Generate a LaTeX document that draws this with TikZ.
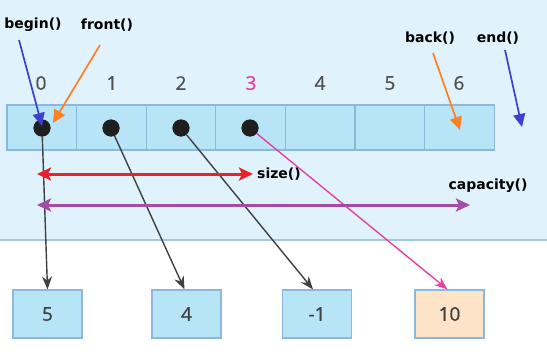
\documentclass[tikz,border=0pt]{standalone}
\usepackage{fontspec}
\setmainfont{DejaVu Sans}
\newfontfamily\numfont[FakeBold=0.9]{Open Sans}
\usetikzlibrary{arrows.meta}
\definecolor{panelbg}{RGB}{224,242,252}
\definecolor{panelline}{RGB}{160,200,230}
\definecolor{cellfill}{RGB}{184,228,248}
\definecolor{celldraw}{RGB}{140,184,222}
\definecolor{orangefill}{RGB}{253,227,200}
\definecolor{pinkc}{RGB}{232,64,160}
\definecolor{redc}{RGB}{236,32,40}
\definecolor{purplec}{RGB}{164,76,168}
\definecolor{bluec}{RGB}{64,64,208}
\definecolor{orangec}{RGB}{255,128,32}
\definecolor{darkc}{RGB}{64,64,64}
\definecolor{numc}{RGB}{80,80,80}
\tikzset{
  cellbox/.style={draw=celldraw, fill=cellfill, line width=1.2pt, minimum width=69.6pt, minimum height=45pt, inner sep=0pt},
  valbox/.style={draw=celldraw, fill=cellfill, line width=1.2pt, minimum width=69pt, minimum height=48pt, inner sep=0pt, font=\numfont\fontsize{19}{19}\selectfont, text=darkc},
  idx/.style={font=\numfont\fontsize{19}{19}\selectfont, text=numc, inner sep=0pt},
  lbl/.style={font=\bfseries\fontsize{14}{14}\selectfont, text=black, inner sep=0pt},
  dotc/.style={circle, fill=black!88, minimum size=17pt, inner sep=0pt},
  ptr/.style={draw=darkc, line width=1.4pt, -{Stealth[length=13pt,width=10pt]}},
  tipa/.style={line width=1.7pt, -{Triangle[length=13pt,width=12pt]}},
  bothway/.style={line width=3pt, {Stealth[length=14pt,width=13pt,inset=3pt]}-{Stealth[length=14pt,width=13pt,inset=3pt]}}
}
\begin{document}
\begin{tikzpicture}[x=1pt,y=-1pt]
\useasboundingbox (0,0) rectangle (547,356);
\fill[panelbg] (-2,-2) rectangle (549,240);
\draw[panelline, line width=1.5pt] (-2,240) -- (549,240);
% cells
\foreach \i/\x in {0/41.8,1/111.4,2/181,3/250.6,4/320.2,5/389.8,6/459.4}{
  \node[cellbox] (c\i) at (\x,127.5) {};
}
% index labels
\foreach \i/\x in {0/41,1/112,2/181,4/320,5/390,6/459}{
  \node[idx] (i\i) at (\x,83) {\i};
}
\node[idx, text=pinkc] (i3) at (251,83) {3};
% value boxes
\node[valbox] (b0) at (47.5,314) {5};
\node[valbox] (b1) at (186.5,314) {4};
\node[valbox] (b2) at (317,314) {-1};
\node[valbox, fill=orangefill] (b3) at (449.5,314) {10};
% dots
\node[dotc] (d0) at (42,128) {};
\node[dotc] (d1) at (111,128) {};
\node[dotc] (d2) at (181,128) {};
\node[dotc] (d3) at (250,128) {};
% pointers
\draw[ptr] (d0) -- (b0.north);
\draw[ptr] (d1) -- ([xshift=-2pt]b1.north);
\draw[ptr] (d2) -- ([xshift=-4pt]b2.north);
\draw[pinkc, line width=1.4pt, -{Stealth[length=13pt,width=10pt]}] (d3) -- ([xshift=-2pt]b3.north);
\node[dotc] at (d0) {};
\node[dotc] at (d1) {};
\node[dotc] at (d2) {};
\node[dotc] at (d3) {};
% top labels
\node[lbl] (begin) at (33,25) {begin()};
\node[lbl] (front) at (107,25) {front()};
\node[lbl] (back) at (430,38) {back()};
\node[lbl] (end) at (498,38) {end()};
\coordinate (beginFrom) at (19,40);
\coordinate (beginTo) at (42,126);
\coordinate (frontFrom) at (100,45);
\coordinate (frontTo) at (53,123);
\coordinate (backFrom) at (433,53);
\coordinate (backTo) at (460,130);
\coordinate (endFrom) at (505,50);
\coordinate (endTo) at (522,127);
\draw[tipa, bluec] (beginFrom) -- (beginTo);
\draw[tipa, orangec] (frontFrom) -- (frontTo);
\draw[tipa, orangec] (backFrom) -- (backTo);
\draw[tipa, bluec] (endFrom) -- (endTo);
% size and capacity
\node[lbl, anchor=west] (size) at (257,174) {size()};
\node[lbl] (cap) at (488,186) {capacity()};
\coordinate (sizeStart) at (37,174);
\coordinate (sizeEnd) at (253,174);
\coordinate (capStart) at (37,205);
\coordinate (capEnd) at (470,205);
\draw[bothway, redc] (sizeStart) -- (sizeEnd);
\draw[bothway, purplec] (capStart) -- (capEnd);
\end{tikzpicture}
\end{document}
